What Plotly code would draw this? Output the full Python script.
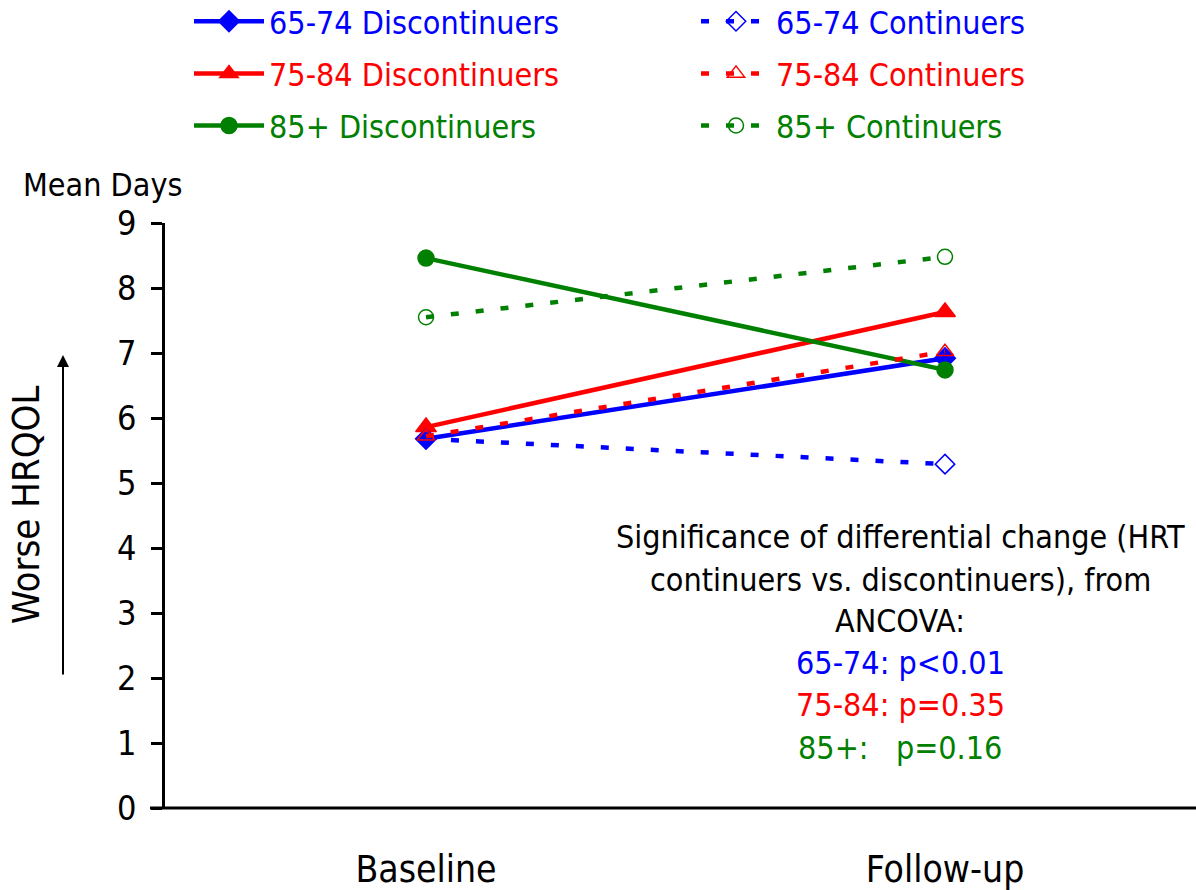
import plotly.graph_objects as go

categories = ["Baseline", "Follow-up"]
disc_65_74 = [5.68, 6.92]
cont_65_74 = [5.68, 5.29]
disc_75_84 = [5.86, 7.63]
cont_75_84 = [5.72, 7.02]
disc_85 = [8.46, 6.74]
cont_85 = [7.55, 8.48]
y_ticks = [0, 1, 2, 3, 4, 5, 6, 7, 8, 9]

BLUE, RED, GREEN = "#0000FF", "#FF0000", "#008000"
FONT = "DejaVu Sans Condensed, DejaVu Sans, sans-serif"
NARROW = "Liberation Sans Narrow, DejaVu Sans Condensed, sans-serif"

W, H = 1196, 890
L, R, T, B = 165, 1196, 223, 808
xpos = list(range(len(categories)))

def px(x):
    return (x - L) / (R - L)

def py(y):
    return (B - y) / (B - T)

def nm(text, color):
    return f"<span style='color:{color}'>{text}</span>"

fig = go.Figure()
series = [
    ("65-74 Discontinuers", disc_65_74, BLUE, "solid", "diamond", "legend"),
    ("75-84 Discontinuers", disc_75_84, RED, "solid", "triangle-up", "legend"),
    ("85+ Discontinuers", disc_85, GREEN, "solid", "circle", "legend"),
    ("65-74 Continuers", cont_65_74, BLUE, "8px,17px", "diamond-open", "legend2"),
    ("75-84 Continuers", cont_75_84, RED, "8px,17px", "triangle-up-open", "legend2"),
    ("85+ Continuers", cont_85, GREEN, "8px,17px", "circle-open", "legend2"),
]
for i, (name, vals, col, dash, sym, lg) in enumerate(series):
    size = 16 if "open" not in sym else 15
    if sym == "triangle-up":
        size = 18
    fig.add_trace(go.Scatter(
        x=xpos, y=vals, mode="lines+markers", name=nm(name, col),
        line=dict(color=col, width=4.5, dash=dash),
        marker=dict(symbol=sym, size=size, color=col, line=dict(color=col, width=1.5)),
        legend=lg, legendgroup=f"g{i}", cliponaxis=False,
    ))

fig.update_layout(
    width=W, height=H,
    margin=dict(l=L, r=W - R, t=T, b=H - B, autoexpand=False),
    plot_bgcolor="white", paper_bgcolor="white",
    font=dict(family=FONT, size=32, color="black"),
    showlegend=True,
    legend=dict(x=px(189), y=py(-6), xanchor="left", yanchor="top",
                font=dict(size=32, family=FONT), tracegroupgap=7.5,
                itemwidth=70, bgcolor="rgba(0,0,0,0)", traceorder="grouped"),
    legend2=dict(x=px(696), y=py(-6), xanchor="left", yanchor="top",
                 font=dict(size=32, family=FONT), tracegroupgap=7.5,
                 itemwidth=70, bgcolor="rgba(0,0,0,0)", traceorder="grouped"),
    xaxis=dict(range=[(L - 426) / 519, (R - 426) / 519], tickvals=xpos, ticktext=categories,
               showgrid=False, zeroline=False, showline=False, ticks="",
               tickfont=dict(family=NARROW, size=37), ticklabelstandoff=36),
    yaxis=dict(range=[0, 9], tickvals=y_ticks, showgrid=False, zeroline=False,
               showline=True, linecolor="black", linewidth=2.5, ticks="outside",
               ticklen=11, tickwidth=2.5, tickcolor="black",
               tickfont=dict(family=FONT, size=34), ticklabelstandoff=8),
)

# x axis line extended slightly left of the y axis
fig.add_shape(type="line", xref="paper", yref="paper", x0=px(150), x1=1, y0=0, y1=0,
              line=dict(color="black", width=3))

# y axis title and arrow
fig.add_annotation(text="Mean Days", xref="paper", yref="paper", x=px(102), y=py(185),
                   xanchor="center", yanchor="middle",
                   showarrow=False, font=dict(size=32, family=FONT))
fig.add_annotation(text="Worse HRQOL", xref="paper", yref="paper", x=px(26), y=py(505),
                   xanchor="center", yanchor="middle",
                   showarrow=False, textangle=-90, font=dict(size=38, family=NARROW))
fig.add_annotation(text="", xref="paper", yref="paper", axref="pixel", ayref="pixel",
                   x=px(63), y=py(355), ax=0, ay=321, showarrow=True,
                   arrowhead=2, arrowsize=1.2, arrowwidth=2, arrowcolor="black")

lines = [
    ("Significance of differential change (HRT", "black", 537),
    ("continuers vs. discontinuers), from", "black", 580),
    ("ANCOVA:", "black", 621),
    ("65-74: p&lt;0.01", BLUE, 663),
    ("75-84: p=0.35", RED, 705),
    ("85+:&nbsp;&nbsp; p=0.16", GREEN, 748),
]
for txt, col, yy in lines:
    fig.add_annotation(text=txt, xref="paper", yref="paper", x=px(900), y=py(yy),
                       xanchor="center", yanchor="middle",
                       showarrow=False, font=dict(size=32, color=col, family=FONT))

fig.write_html("out.html", config={"displayModeBar": False},
               post_script="document.body.style.margin='0';")
